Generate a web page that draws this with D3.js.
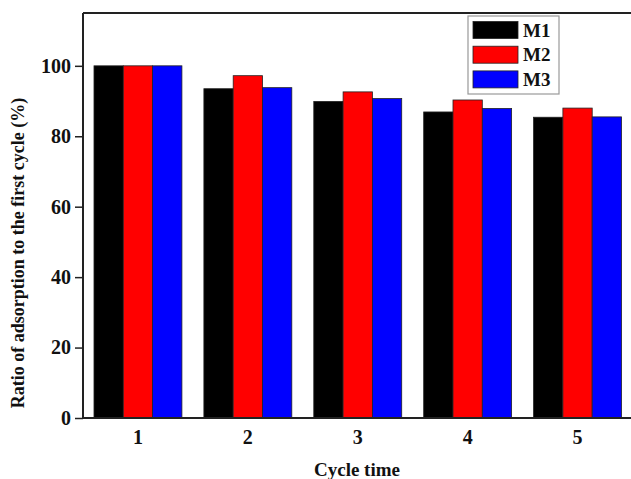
<!DOCTYPE html>
<html>
<head>
<meta charset="utf-8">
<script src="https://cdn.jsdelivr.net/npm/d3@7"></script>
<style>
  body { margin: 0; background: #fff; }
  svg { display: block; }
  text { font-family: "Liberation Serif", "Times New Roman", serif; font-weight: bold; fill: #111; }
</style>
</head>
<body>
<script>
var cycles = ["1", "2", "3", "4", "5"];
var seriesNames = ["M1", "M2", "M3"];
var m1 = [100, 93.5, 89.9, 86.9, 85.4];
var m2 = [100, 97.2, 92.6, 90.3, 88.0];
var m3 = [100, 93.8, 90.7, 87.9, 85.5];
var colors = ["#000000", "#ff0000", "#0000ff"];
var yTicks = [0, 20, 40, 60, 80, 100];

var width = 631, height = 479;
var margin = { top: 13, left: 83, bottom: 61 };
var plotRight = 632.5;

var svg = d3.select("body").append("svg")
    .attr("width", width)
    .attr("height", height);

var x = d3.scaleBand()
    .domain(cycles)
    .range([margin.left, plotRight])
    .paddingInner(0.2)
    .paddingOuter(0.1);

var xInner = d3.scaleBand()
    .domain(seriesNames)
    .range([0, x.bandwidth()]);

var y = d3.scaleLinear()
    .domain([0, 115])
    .range([height - margin.bottom, margin.top]);

var allSeries = [m1, m2, m3];
var rows = [];
cycles.forEach(function (c, i) {
    seriesNames.forEach(function (s, j) {
        rows.push({ cycle: c, name: s, value: allSeries[j][i], color: colors[j] });
    });
});

svg.selectAll(".bar")
    .data(rows)
    .enter().append("rect")
    .attr("class", "bar")
    .attr("x", function (d) { return x(d.cycle) + xInner(d.name); })
    .attr("y", function (d) { return y(d.value); })
    .attr("width", xInner.bandwidth())
    .attr("height", function (d) { return y(0) - y(d.value); })
    .attr("fill", function (d) { return d.color; })
    .attr("stroke", "#222")
    .attr("stroke-width", 0.8);

// frame: top line
svg.append("line")
    .attr("x1", margin.left).attr("x2", width)
    .attr("y1", margin.top).attr("y2", margin.top)
    .attr("stroke", "#222").attr("stroke-width", 2);

var yAxis = svg.append("g")
    .attr("transform", "translate(" + margin.left + ",0)")
    .call(d3.axisLeft(y).tickValues(yTicks).tickSize(8).tickPadding(4));
yAxis.select(".domain").attr("stroke", "#222").attr("stroke-width", 2)
    .attr("d", "M0," + margin.top + "V" + y(0));
yAxis.selectAll(".tick line").attr("stroke", "#222").attr("stroke-width", 1.5);
yAxis.selectAll(".tick text").style("font-size", "20px").style("font-family", "Liberation Serif").style("font-weight", "bold").attr("fill", "#111");

var xAxis = svg.append("g")
    .attr("transform", "translate(0," + y(0) + ")")
    .call(d3.axisBottom(x).tickSize(0).tickPadding(12));
xAxis.select(".domain").attr("stroke", "#222").attr("stroke-width", 2)
    .attr("d", "M" + margin.left + ",0H" + width);
xAxis.selectAll(".tick text").style("font-size", "20px").style("font-family", "Liberation Serif").style("font-weight", "bold").attr("fill", "#111");

svg.append("text")
    .attr("x", 357)
    .attr("y", 476)
    .attr("text-anchor", "middle")
    .style("font-size", "19px")
    .text("Cycle time");

svg.append("text")
    .attr("transform", "translate(24," + 253 + ") rotate(-90)")
    .attr("text-anchor", "middle")
    .style("font-size", "18px")
    .text("Ratio of adsorption to the first cycle (%)");

// legend
var legend = svg.append("g").attr("transform", "translate(468,16)");
legend.append("rect")
    .attr("width", 91).attr("height", 78)
    .attr("fill", "#fff").attr("stroke", "#999").attr("stroke-width", 1.2);
var item = legend.selectAll(".item")
    .data(seriesNames)
    .enter().append("g")
    .attr("class", "item")
    .attr("transform", function (d, i) { return "translate(5," + (5.5 + i * 24.7) + ")"; });
item.append("rect")
    .attr("width", 45).attr("height", 17)
    .attr("fill", function (d, i) { return colors[i]; })
    .attr("stroke", "#222").attr("stroke-width", 0.8);
item.append("text")
    .attr("x", 50).attr("y", 15)
    .style("font-size", "19px")
    .text(function (d) { return d; });
</script>
</body>
</html>
